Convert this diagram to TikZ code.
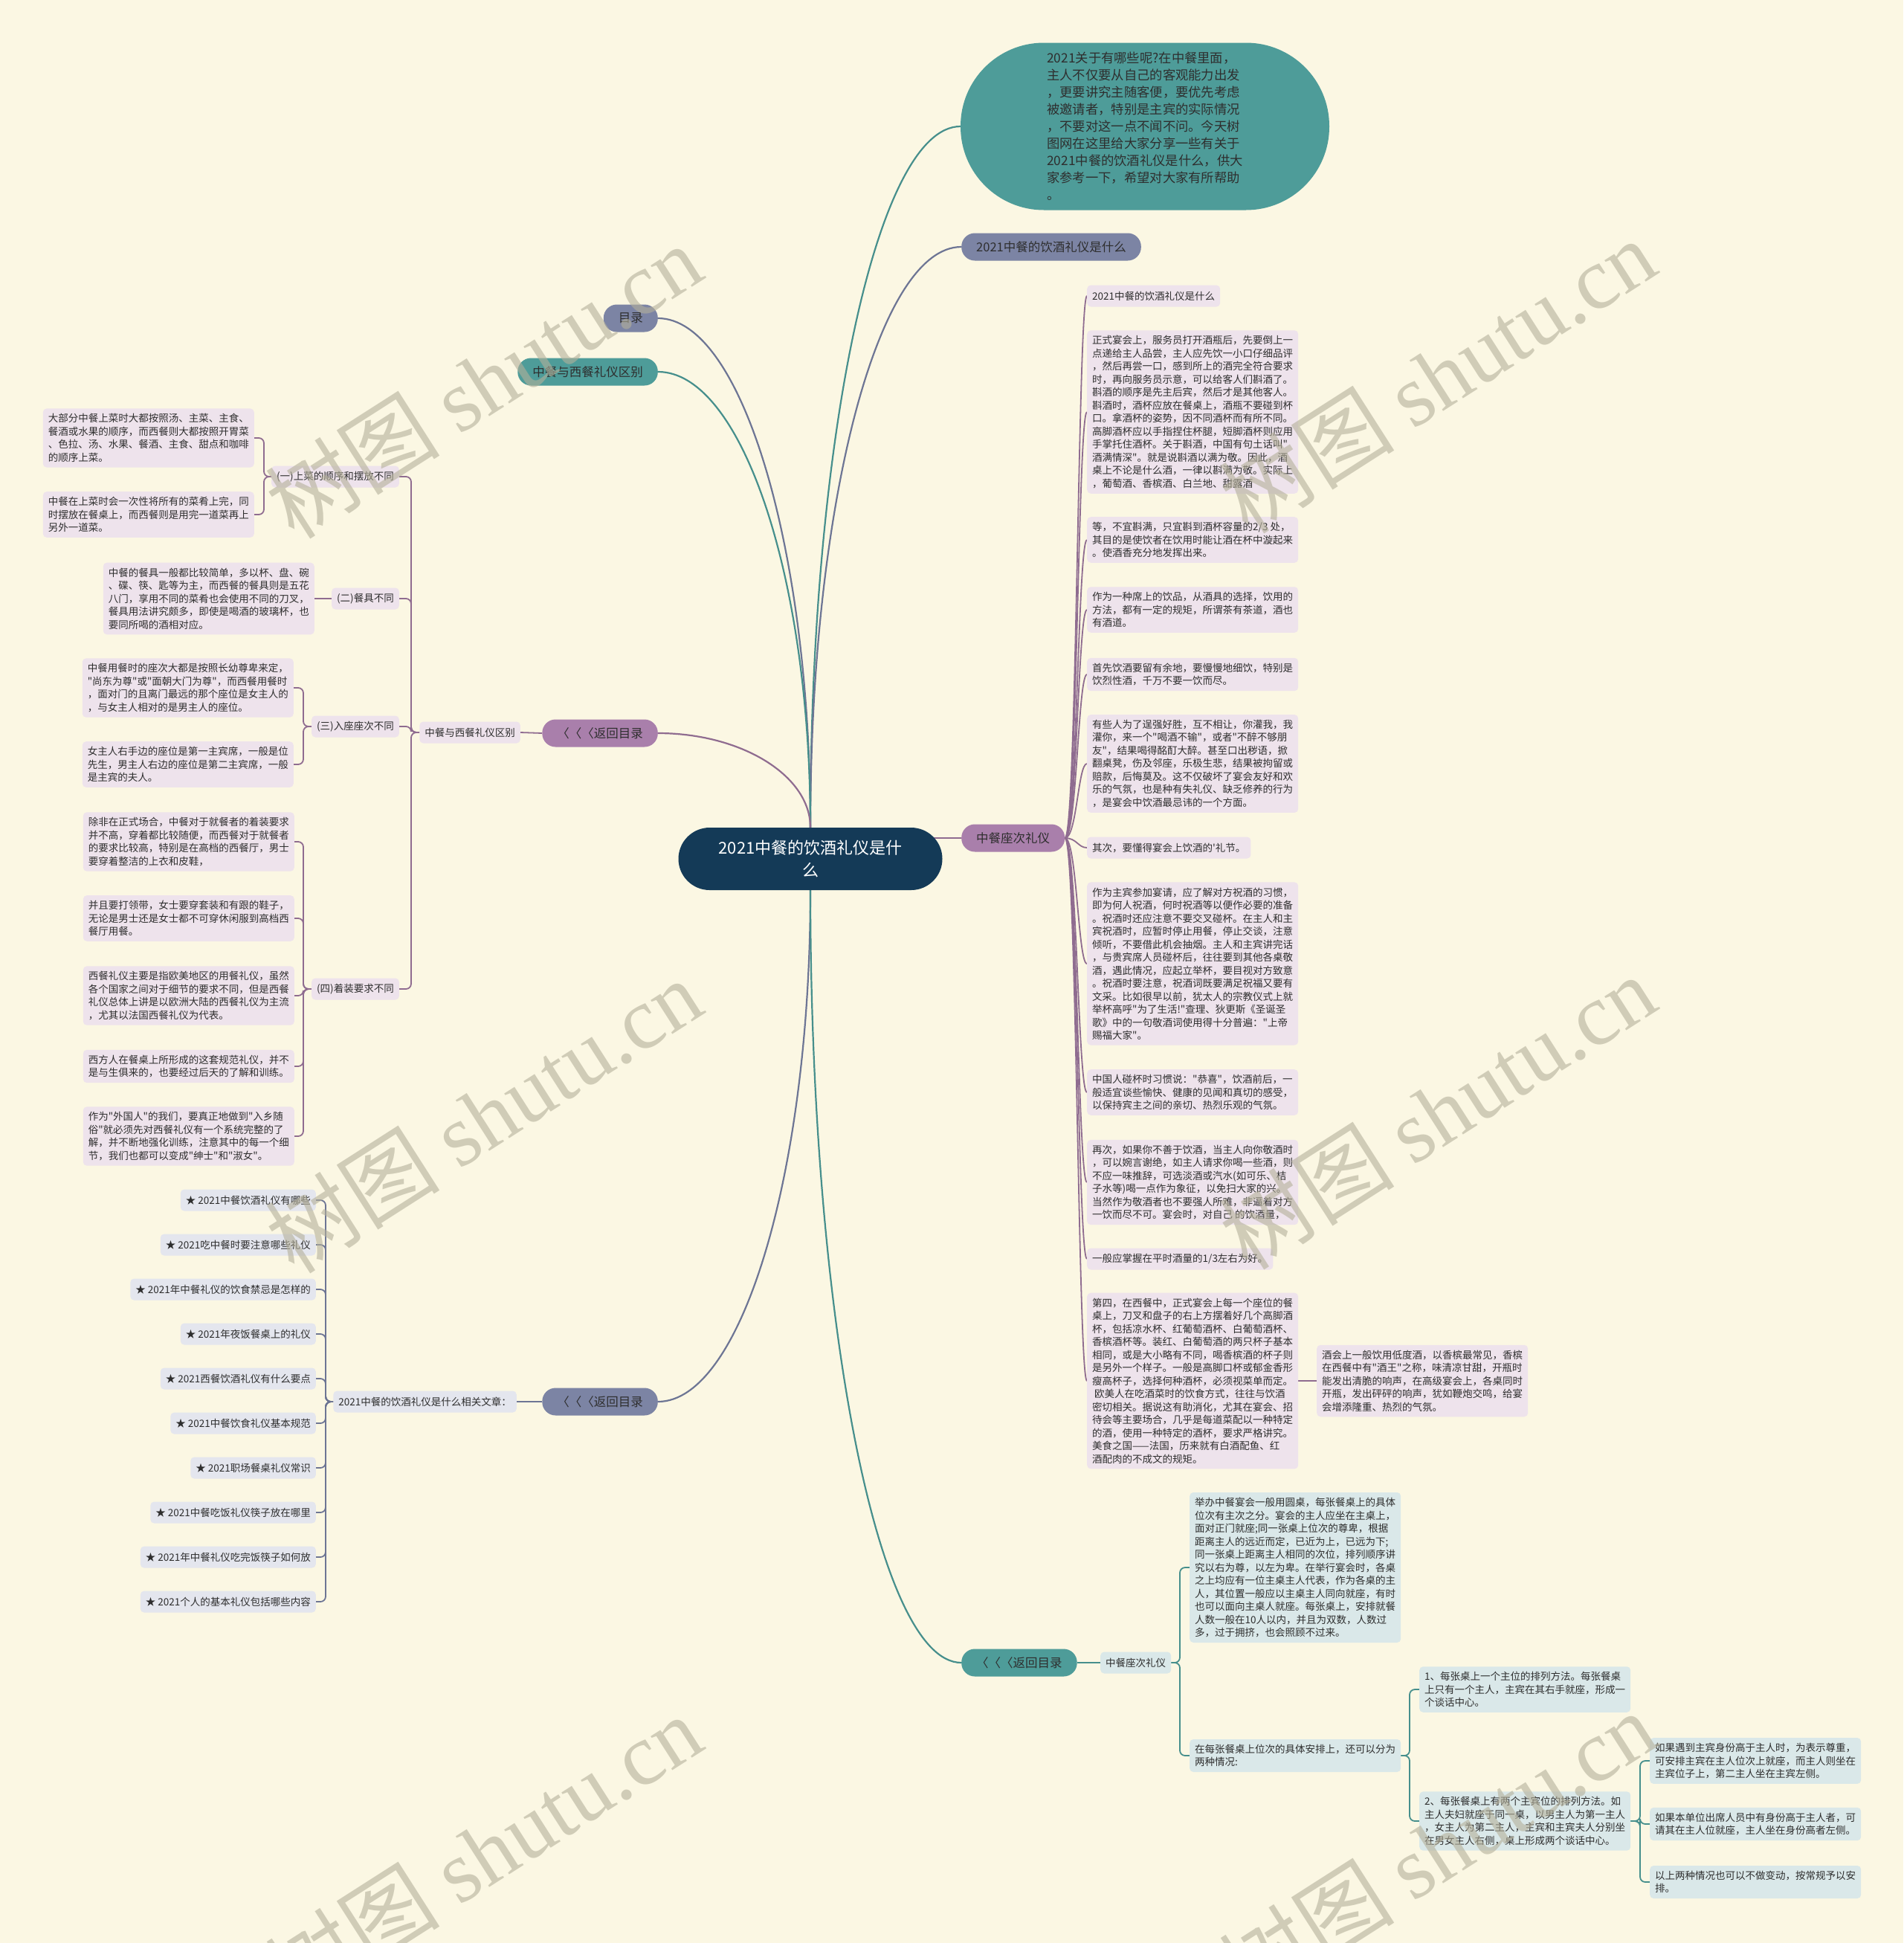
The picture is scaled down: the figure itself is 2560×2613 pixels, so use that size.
\documentclass[tikz,border=0pt]{standalone}
\usepackage{fontspec}
\newfontfamily\cjkfont{Noto Sans CJK SC}
\newfontfamily\markfont{Liberation Serif}
\usepackage{xcolor}
\usepackage{tikz}
\usetikzlibrary{backgrounds}
\definecolor{paper}{HTML}{FBF7E3}
\definecolor{hubblue}{HTML}{143A57}
\definecolor{tealnode}{HTML}{4E9C99}
\definecolor{slatenode}{HTML}{7C84A4}
\definecolor{plumnode}{HTML}{A97FAB}
\definecolor{plumleaf}{HTML}{EEE3EC}
\definecolor{slateleaf}{HTML}{E4E6EE}
\definecolor{tealleaf}{HTML}{DAE8E9}
\definecolor{plumline}{HTML}{8F6C90}
\definecolor{tealline}{HTML}{468F8C}
\definecolor{slateline}{HTML}{6D7594}
\definecolor{inkgray}{HTML}{2E2E2E}
\definecolor{markgray}{HTML}{B4B09A}

\begin{document}
\begin{tikzpicture}[
    x=1pt, y=-1pt,
    hub/.style={
        rectangle, rounded corners=42pt,
        fill=hubblue, text=white,
        minimum width=355pt, minimum height=84pt,
        align=center, font=\cjkfont\fontsize{22}{30}\selectfont
    },
    bubble/.style={
        rectangle, rounded corners=112pt, fill=tealnode, text=inkgray,
        minimum width=496pt, minimum height=225pt,
        align=left, font=\cjkfont\fontsize{17.3}{23}\selectfont
    },
    pill/.style={
        rectangle, rounded corners=18pt,
        minimum height=37pt, inner xsep=20pt, inner ysep=0pt,
        text=inkgray, font=\cjkfont\fontsize{16.5}{20}\selectfont
    },
    leaf/.style={
        rectangle, rounded corners=5pt,
        inner xsep=7pt, inner ysep=7pt, minimum height=29pt,
        align=left, text=inkgray, font=\cjkfont\fontsize{13.5}{17.5}\selectfont
    },
    vine/.style={line width=2.2pt},
    twig/.style={line width=1.8pt, rounded corners=7pt},
    watermark/.style={rotate=32.6, text=markgray, opacity=0.6,
        font=\cjkfont\fontsize{118}{118}\selectfont}
]
\useasboundingbox (0,0) rectangle (2560,2613);
\begin{scope}[on background layer]
\fill[paper] (0,0) rectangle (2560,2613);
\end{scope}

\node[hub] (hub) at (1090,1155) {2021中餐的饮酒礼仪是什\\么};
\coordinate (hubr) at ([xshift=-20pt]hub.east);

\node[bubble] (intro) at (1540,170) {2021关于有哪些呢?在中餐里面，\\主人不仅要从自己的客观能力出发\\，更要讲究主随客便，要优先考虑\\被邀请者，特别是主宾的实际情况\\，不要对这一点不闻不问。今天树\\图网在这里给大家分享一些有关于\\2021中餐的饮酒礼仪是什么，供大\\家参考一下，希望对大家有所帮助\\。};
\node[pill, fill=slatenode, anchor=west] (whatis) at (1293,332) {2021中餐的饮酒礼仪是什么};
\node[pill, fill=slatenode, anchor=east] (mulu) at (885,428) {目录};
\node[pill, fill=tealnode, anchor=east] (qubie) at (885,500) {中餐与西餐礼仪区别};
\node[pill, fill=plumnode, anchor=east] (backA) at (885,986) {〈〈〈返回目录};
\node[pill, fill=plumnode, anchor=west] (zuoci) at (1293,1127) {中餐座次礼仪};
\node[pill, fill=slatenode, anchor=east] (backB) at (885,1885) {〈〈〈返回目录};
\node[pill, fill=tealnode, anchor=west] (backC) at (1293,2236) {〈〈〈返回目录};

% left: 中餐与西餐礼仪区别
\node[leaf, fill=plumleaf, anchor=east] (xyq) at (700,985) {中餐与西餐礼仪区别};
\node[leaf, fill=plumleaf, anchor=east] (s1) at (537,641) {(一)上菜的顺序和摆放不同};
\node[leaf, fill=plumleaf, anchor=east] (s2) at (537,805) {(二)餐具不同};
\node[leaf, fill=plumleaf, anchor=east] (s3) at (537,977) {(三)入座座次不同};
\node[leaf, fill=plumleaf, anchor=east] (s4) at (537,1330) {(四)着装要求不同};
\node[leaf, fill=plumleaf, anchor=east] (s1a) at (342,589) {大部分中餐上菜时大都按照汤、主菜、主食、\\餐酒或水果的顺序，而西餐则大都按照开胃菜\\、色拉、汤、水果、餐酒、主食、甜点和咖啡\\的顺序上菜。};
\node[leaf, fill=plumleaf, anchor=east] (s1b) at (342,692) {中餐在上菜时会一次性将所有的菜肴上完，同\\时摆放在餐桌上，而西餐则是用完一道菜再上\\另外一道菜。};
\node[leaf, fill=plumleaf, anchor=east] (s2a) at (423,805) {中餐的餐具一般都比较简单，多以杯、盘、碗\\、碟、筷、匙等为主，而西餐的餐具则是五花\\八门，享用不同的菜肴也会使用不同的刀叉，\\餐具用法讲究颇多，即使是喝酒的玻璃杯，也\\要同所喝的酒相对应。};
\node[leaf, fill=plumleaf, anchor=east] (s3a) at (395,925) {中餐用餐时的座次大都是按照长幼尊卑来定，\\"尚东为尊"或"面朝大门为尊"，而西餐用餐时\\，面对门的且离门最远的那个座位是女主人的\\，与女主人相对的是男主人的座位。};
\node[leaf, fill=plumleaf, anchor=east] (s3b) at (395,1028) {女主人右手边的座位是第一主宾席，一般是位\\先生，男主人右边的座位是第二主宾席，一般\\是主宾的夫人。};
\node[leaf, fill=plumleaf, anchor=east] (s4a) at (396,1132) {除非在正式场合，中餐对于就餐者的着装要求\\并不高，穿着都比较随便，而西餐对于就餐者\\的要求比较高，特别是在高档的西餐厅，男士\\要穿着整洁的上衣和皮鞋，};
\node[leaf, fill=plumleaf, anchor=east] (s4b) at (396,1235) {并且要打领带，女士要穿套装和有跟的鞋子，\\无论是男士还是女士都不可穿休闲服到高档西\\餐厅用餐。};
\node[leaf, fill=plumleaf, anchor=east] (s4c) at (396,1339) {西餐礼仪主要是指欧美地区的用餐礼仪，虽然\\各个国家之间对于细节的要求不同，但是西餐\\礼仪总体上讲是以欧洲大陆的西餐礼仪为主流\\，尤其以法国西餐礼仪为代表。};
\node[leaf, fill=plumleaf, anchor=east] (s4d) at (396,1434) {西方人在餐桌上所形成的这套规范礼仪，并不\\是与生俱来的，也要经过后天的了解和训练。};
\node[leaf, fill=plumleaf, anchor=east] (s4e) at (396,1528) {作为"外国人"的我们，要真正地做到"入乡随\\俗"就必须先对西餐礼仪有一个系统完整的了\\解，并不断地强化训练，注意其中的每一个细\\节，我们也都可以变成"绅士"和"淑女"。};

% left: related articles
\node[leaf, fill=slateleaf, anchor=east] (rel) at (695,1885) {2021中餐的饮酒礼仪是什么相关文章：};
\foreach \t [count=\i] in {★ 2021中餐饮酒礼仪有哪些, ★ 2021吃中餐时要注意哪些礼仪,
    ★ 2021年中餐礼仪的饮食禁忌是怎样的, ★ 2021年夜饭餐桌上的礼仪,
    ★ 2021西餐饮酒礼仪有什么要点, ★ 2021中餐饮食礼仪基本规范,
    ★ 2021职场餐桌礼仪常识, ★ 2021中餐吃饭礼仪筷子放在哪里,
    ★ 2021年中餐礼仪吃完饭筷子如何放, ★ 2021个人的基本礼仪包括哪些内容}
    \node[leaf, fill=slateleaf, anchor=east] (art\i) at (425,1554+60*\i) {\t};

% right: 中餐座次礼仪
\node[leaf, fill=plumleaf, anchor=west] (c1) at (1462,398) {2021中餐的饮酒礼仪是什么};
\node[leaf, fill=plumleaf, anchor=west] (c2) at (1462,554) {正式宴会上，服务员打开酒瓶后，先要倒上一\\点递给主人品尝，主人应先饮一小口仔细品评\\，然后再尝一口，感到所上的酒完全符合要求\\时，再向服务员示意，可以给客人们斟酒了。\\斟酒的顺序是先主后宾，然后才是其他客人。\\斟酒时，酒杯应放在餐桌上，酒瓶不要碰到杯\\口。拿酒杯的姿势，因不同酒杯而有所不同。\\高脚酒杯应以手指捏住杯腿，短脚酒杯则应用\\手掌托住酒杯。关于斟酒，中国有句土话叫"\\酒满情深"。就是说斟酒以满为敬。因此，酒\\桌上不论是什么酒，一律以斟满为敬。实际上\\，葡萄酒、香槟酒、白兰地、甜露酒};
\node[leaf, fill=plumleaf, anchor=west] (c3) at (1462,726) {等，不宜斟满，只宜斟到酒杯容量的2/3 处，\\其目的是使饮者在饮用时能让酒在杯中漩起来\\。使酒香充分地发挥出来。};
\node[leaf, fill=plumleaf, anchor=west] (c4) at (1462,820) {作为一种席上的饮品，从酒具的选择，饮用的\\方法，都有一定的规矩，所谓茶有茶道，酒也\\有酒道。};
\node[leaf, fill=plumleaf, anchor=west] (c5) at (1462,907) {首先饮酒要留有余地，要慢慢地细饮，特别是\\饮烈性酒，千万不要一饮而尽。};
\node[leaf, fill=plumleaf, anchor=west] (c6) at (1462,1027) {有些人为了逞强好胜，互不相让，你灌我，我\\灌你，来一个"喝酒不输"，或者"不醉不够朋\\友"，结果喝得酩酊大醉。甚至口出秽语，掀\\翻桌凳，伤及邻座，乐极生悲，结果被拘留或\\赔款，后悔莫及。这不仅破坏了宴会友好和欢\\乐的气氛，也是种有失礼仪、缺乏修养的行为\\，是宴会中饮酒最忌讳的一个方面。};
\node[leaf, fill=plumleaf, anchor=west] (c7) at (1462,1140) {其次，要懂得宴会上饮酒的'礼节。};
\node[leaf, fill=plumleaf, anchor=west] (c8) at (1462,1296) {作为主宾参加宴请，应了解对方祝酒的习惯，\\即为何人祝酒，何时祝酒等以便作必要的准备\\。祝酒时还应注意不要交叉碰杯。在主人和主\\宾祝酒时，应暂时停止用餐，停止交谈，注意\\倾听，不要借此机会抽烟。主人和主宾讲完话\\，与贵宾席人员碰杯后，往往要到其他各桌敬\\酒，遇此情况，应起立举杯，要目视对方致意\\。祝酒时要注意，祝酒词既要满足祝福又要有\\文采。比如很早以前，犹太人的宗教仪式上就\\举杯高呼"为了生活!"查理、狄更斯《圣诞圣\\歌》中的一句敬酒词使用得十分普遍："上帝\\赐福大家"。};
\node[leaf, fill=plumleaf, anchor=west] (c9) at (1462,1469) {中国人碰杯时习惯说："恭喜"，饮酒前后，一\\般适宜谈些愉快、健康的见闻和真切的感受，\\以保持宾主之间的亲切、热烈乐观的气氛。};
\node[leaf, fill=plumleaf, anchor=west] (c10) at (1462,1590) {再次，如果你不善于饮酒，当主人向你敬酒时\\，可以婉言谢绝，如主人请求你喝一些酒，则\\不应一味推辞，可选淡酒或汽水(如可乐、桔\\子水等)喝一点作为象征，以免扫大家的兴。\\当然作为敬酒者也不要强人所难，非逼着对方\\一饮而尽不可。宴会时，对自己 的饮酒量，};
\node[leaf, fill=plumleaf, anchor=west] (c11) at (1462,1693) {一般应掌握在平时酒量的1/3左右为好。};
\node[leaf, fill=plumleaf, anchor=west] (c12) at (1462,1857) {第四，在西餐中，正式宴会上每一个座位的餐\\桌上，刀叉和盘子的右上方摆着好几个高脚酒\\杯，包括凉水杯、红葡萄酒杯、白葡萄酒杯、\\香槟酒杯等。装红、白葡萄酒的两只杯子基本\\相同，或是大小略有不同，喝香槟酒的杯子则\\是另外一个样子。一般是高脚口杯或郁金香形\\瘦高杯子，选择何种酒杯，必须视菜单而定。\\\ 欧美人在吃酒菜时的饮食方式，往往与饮酒\\密切相关。据说这有助消化，尤其在宴会、招\\待会等主要场合，几乎是每道菜配以一种特定\\的酒，使用一种特定的酒杯，要求严格讲究。\\美食之国——法国，历来就有白酒配鱼、红\\酒配肉的不成文的规矩。};
\node[leaf, fill=plumleaf, anchor=west] (c12a) at (1771,1857) {酒会上一般饮用低度酒，以香槟最常见，香槟\\在西餐中有"酒王"之称，味清凉甘甜，开瓶时\\能发出清脆的响声，在高级宴会上，各桌同时\\开瓶，发出砰砰的响声，犹如鞭炮交鸣，给宴\\会增添隆重、热烈的气氛。};

% bottom: 中餐座次礼仪
\node[leaf, fill=tealleaf, anchor=west] (zc2) at (1480,2236) {中餐座次礼仪};
\node[leaf, fill=tealleaf, anchor=west] (tA) at (1600,2108) {举办中餐宴会一般用圆桌，每张餐桌上的具体\\位次有主次之分。宴会的主人应坐在主桌上，\\面对正门就座;同一张桌上位次的尊卑，根据\\距离主人的远近而定，已近为上，已远为下;\\同一张桌上距离主人相同的次位，排列顺序讲\\究以右为尊，以左为卑。在举行宴会时，各桌\\之上均应有一位主桌主人代表，作为各桌的主\\人，其位置一般应以主桌主人同向就座，有时\\也可以面向主桌人就座。每张桌上，安排就餐\\人数一般在10人以内，并且为双数，人数过\\多，过于拥挤，也会照顾不过来。};
\node[leaf, fill=tealleaf, anchor=west] (tB) at (1600,2361) {在每张餐桌上位次的具体安排上，还可以分为\\两种情况:};
\node[leaf, fill=tealleaf, anchor=west] (tB1) at (1909,2272) {1、每张桌上一个主位的排列方法。每张餐桌\\上只有一个主人，主宾在其右手就座，形成一\\个谈话中心。};
\node[leaf, fill=tealleaf, anchor=west] (tB2) at (1909,2449) {2、每张餐桌上有两个主宾位的排列方法。如\\主人夫妇就座于同一桌，以男主人为第一主人\\，女主人为第二主人，主宾和主宾夫人分别坐\\在男女主人右侧，桌上形成两个谈话中心。};
\node[leaf, fill=tealleaf, anchor=west] (tB2a) at (2219,2368) {如果遇到主宾身份高于主人时，为表示尊重，\\可安排主宾在主人位次上就座，而主人则坐在\\主宾位子上，第二主人坐在主宾左侧。};
\node[leaf, fill=tealleaf, anchor=west] (tB2b) at (2219,2453) {如果本单位出席人员中有身份高于主人者，可\\请其在主人位就座，主人坐在身份高者左侧。};
\node[leaf, fill=tealleaf, anchor=west] (tB2c) at (2219,2531) {以上两种情况也可以不做变动，按常规予以安\\排。};

\begin{scope}[on background layer]
\draw[tealline, vine] (hub.north) .. controls +(0,-520) and +(-113,0) .. (intro.west);
\draw[slateline, vine] (hub.north) .. controls +(0,-431) and +(-113,0) .. (whatis.west);
\draw[slateline, vine] (mulu.east) .. controls +(112,0) and +(0,-378) .. (hub.north);
\draw[tealline, vine] (qubie.east) .. controls +(112,0) and +(0,-338) .. (hub.north);
\draw[plumline, vine] (backA.east) .. controls +(112,0) and +(0,-70) .. (hub.north);
\draw[plumline, vine] (hubr |- zuoci.west) -- (zuoci.west);
\draw[slateline, vine] (hub.south) .. controls +(0,380) and +(112,0) .. (backB.east);
\draw[tealline, vine] (hub.south) .. controls +(0,574) and +(-113,0) .. (backC.west);

\draw[plumline, twig] (backA.west) -- (xyq.east);
\foreach \c in {s1,s2,s3,s4}
    \draw[plumline, twig] (\c.east) -- ++(16,0) |- (xyq.west);
\foreach \c in {s1a,s1b}
    \draw[plumline, twig] (\c.east) -- ++(13,0) |- (s1.west);
\draw[plumline, twig] (s2a.east) -- (s2.west);
\foreach \c in {s3a,s3b}
    \draw[plumline, twig] (\c.east) -- ++(13,0) |- (s3.west);
\foreach \c in {s4a,s4b,s4c,s4d,s4e}
    \draw[plumline, twig] (\c.east) -- ++(12,0) |- (s4.west);

\draw[slateline, twig] (backB.west) -- (rel.east);
\foreach \i in {1,...,10}
    \draw[slateline, twig] (art\i.east) -- ++(13,0) |- (rel.west);

\foreach \c in {c1,c2,c3,c4,c5,c6,c7,c8,c9,c10,c11,c12}
    \draw[plumline, line width=1.8pt] (zuoci.east) .. controls +(16,0) and +(-12,0) .. (\c.west);
\draw[plumline, twig] (c12.east) -- (c12a.west);

\draw[tealline, twig] (backC.east) -- (zc2.west);
\foreach \c in {tA,tB}
    \draw[tealline, twig] (\c.west) -- ++(-13,0) |- (zc2.east);
\foreach \c in {tB1,tB2}
    \draw[tealline, twig] (\c.west) -- ++(-13,0) |- (tB.east);
\foreach \c in {tB2a,tB2b,tB2c}
    \draw[tealline, twig] (\c.west) -- ++(-13,0) |- (tB2.east);
\end{scope}

\foreach \wx/\wy [count=\i] in {650/512, 1933/505, 650/1500, 1933/1495, 650/2490, 1933/2485}
    \node[watermark] (wm\i) at (\wx,\wy) {树图 {\markfont shutu.cn}};
\end{tikzpicture}
\end{document}
